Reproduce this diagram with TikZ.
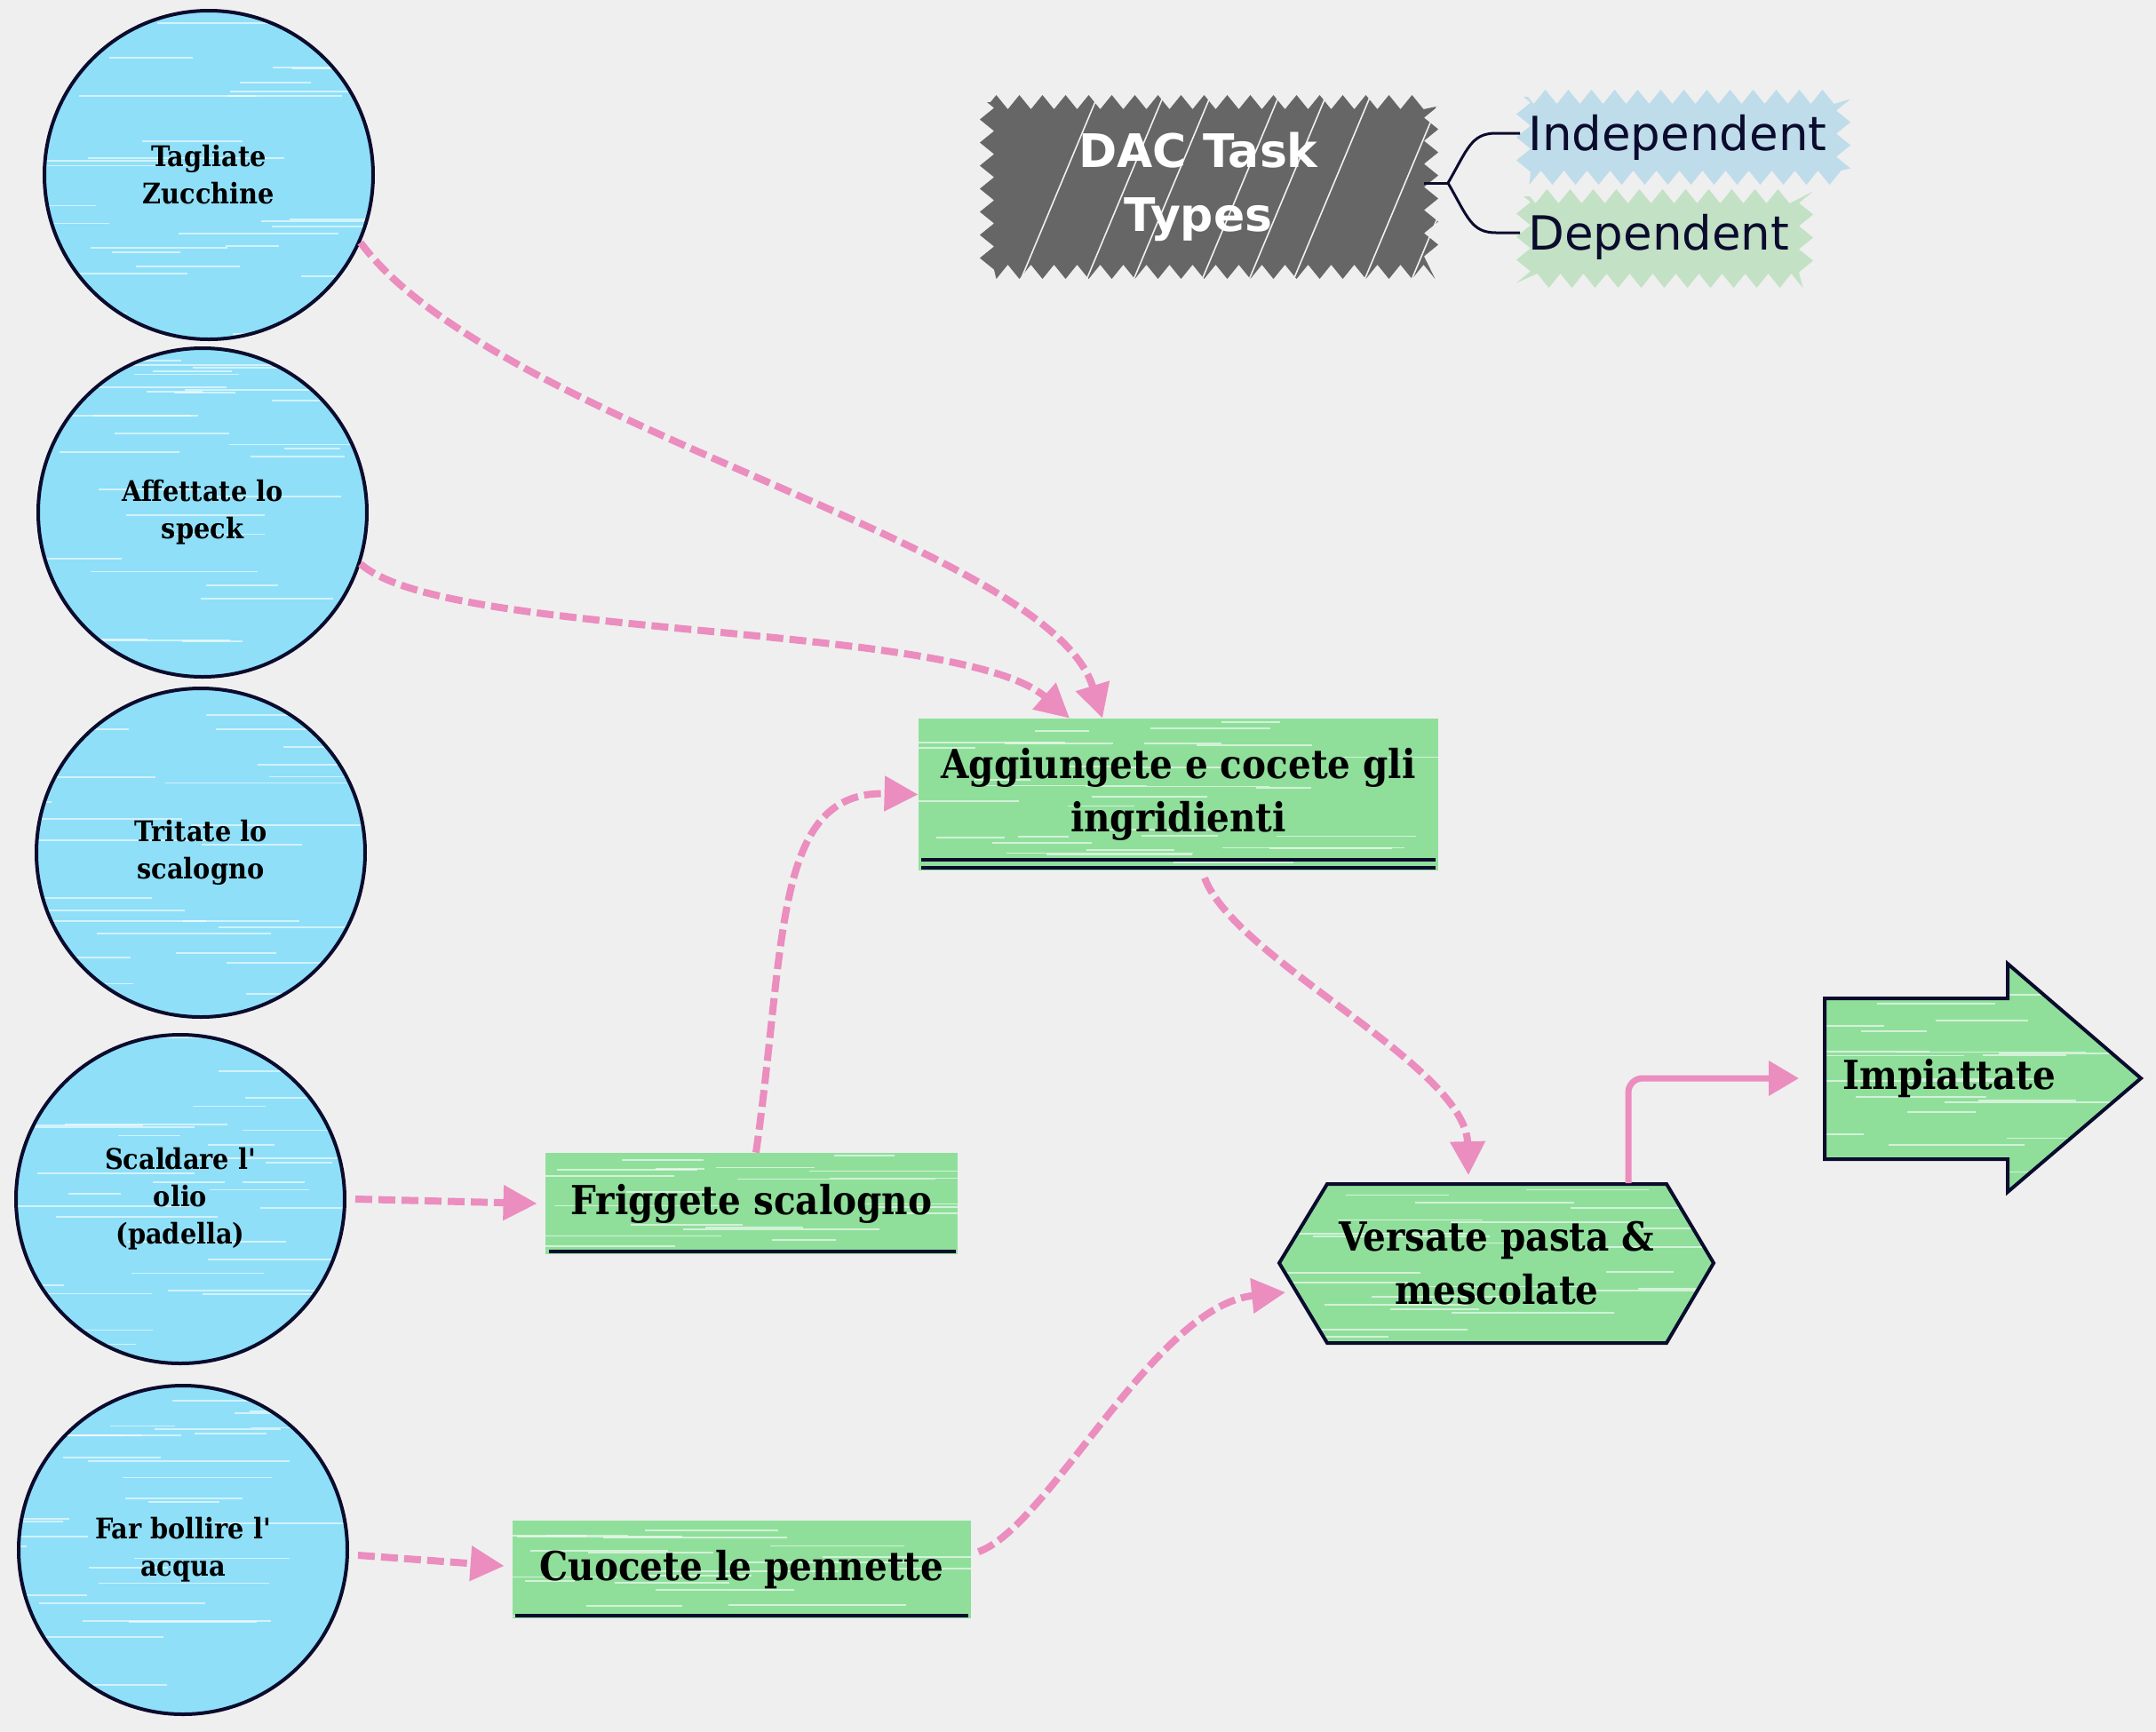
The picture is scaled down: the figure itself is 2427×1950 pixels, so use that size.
\documentclass[tikz,border=0pt]{standalone}
\usepackage{fontspec}
\setmainfont{DejaVu Serif}
\newfontfamily\nf{DejaVu Serif Condensed}
\newfontfamily\sansf{DejaVu Sans}
\usetikzlibrary{arrows.meta,decorations.pathmorphing}
\definecolor{bgc}{HTML}{EFEFEF}
\definecolor{cblue}{HTML}{8FDFF8}
\definecolor{cgreen}{HTML}{8FDF9B}
\definecolor{navy}{HTML}{0B0B2E}
\definecolor{pinkc}{HTML}{EB8DBE}
\definecolor{dacg}{HTML}{666666}
\definecolor{indb}{HTML}{BFDCEA}
\definecolor{depg}{HTML}{C3E1C4}
\newcommand\mystreaks[5]{%
  \foreach \i in {1,...,#5}{%
    \pgfmathsetmacro\sy{(#2)+rnd*((#4)-(#2))}%
    \pgfmathsetmacro\sx{(#1)-80+rnd*((#3)-(#1))}%
    \pgfmathsetmacro\sl{50+rnd*180}%
    \draw[white, opacity=0.6, line width=0.9pt] (\sx,\sy) -- ++(\sl,0);
  }}
\tikzset{
  circ/.style={circle, draw=navy, line width=2pt, minimum size=185pt, inner sep=0pt,
    align=center, font=\nf\bfseries\fontsize{16}{21}\selectfont},
  boxtext/.style={inner sep=0pt, align=center, font=\nf\bfseries\fontsize{22.5}{30}\selectfont},
  con/.style={draw=pinkc, line width=4pt, dash pattern=on 9.5pt off 3.5pt,
    -{Triangle[length=19pt,width=19pt]}},
  solidcon/.style={draw=pinkc, line width=3.5pt, rounded corners=8pt,
    -{Triangle[length=17pt,width=19pt]}},
  legtext/.style={text=navy, anchor=west, inner sep=4.5pt, font=\sansf\fontsize{26.5}{30}\selectfont},
  rough/.style={decorate, decoration={zigzag, segment length=13pt, amplitude=4pt}}
}
\begin{document}
\begin{tikzpicture}[x=0.5pt,y=-0.5pt]
\pgfmathsetseed{7}
\fill[bgc] (0,0) rectangle (2427,1950);
\useasboundingbox (0,0) rectangle (2427,1950);

% ---- circle fills with streaks
\foreach \cx/\cy in {235/197,228/577,226/960,203/1350,206/1745}{
  \fill[cblue] (\cx,\cy) circle[radius=92.5pt];
  \begin{scope}
    \clip (\cx,\cy) circle[radius=92pt];
    \mystreaks{\cx-185}{\cy-185}{\cx+185}{\cy+185}{30}
  \end{scope}
}

% ---- green shapes
\fill[cgreen] (1034,809) rectangle (1619,980);
\begin{scope}\clip (1034,809) rectangle (1619,980);
  \mystreaks{1034}{812}{1619}{978}{30}\end{scope}
\fill[cgreen] (614,1298) rectangle (1078,1412);
\begin{scope}\clip (614,1298) rectangle (1078,1412);
  \mystreaks{614}{1300}{1078}{1410}{20}\end{scope}
\fill[cgreen] (577,1712) rectangle (1093,1822);
\begin{scope}\clip (577,1712) rectangle (1093,1822);
  \mystreaks{577}{1714}{1093}{1820}{20}\end{scope}
\fill[cgreen] (1440,1422) -- (1494,1333) -- (1876,1333) -- (1929,1422) -- (1876,1512) -- (1494,1512) -- cycle;
\begin{scope}\clip (1440,1422) -- (1494,1333) -- (1876,1333) -- (1929,1422) -- (1876,1512) -- (1494,1512) -- cycle;
  \mystreaks{1440}{1336}{1929}{1510}{26}\end{scope}
\fill[cgreen] (2054,1124) -- (2260,1124) -- (2260,1085) -- (2410,1214) -- (2260,1342) -- (2260,1305) -- (2054,1305) -- cycle;
\begin{scope}\clip (2054,1124) -- (2260,1124) -- (2260,1085) -- (2410,1214) -- (2260,1342) -- (2260,1305) -- (2054,1305) -- cycle;
  \mystreaks{2054}{1088}{2410}{1340}{26}\end{scope}

% outlines of drawn shapes
\draw[navy, line width=2pt] (1037,968) -- (1616,968);
\draw[navy, line width=2pt] (1037,977) -- (1616,977);
\draw[navy, line width=2pt] (618,1409) -- (1076,1409);
\draw[navy, line width=2pt] (580,1819) -- (1090,1819);
\draw[navy, line width=2pt, line join=miter] (1440,1422) -- (1494,1333) -- (1876,1333) -- (1929,1422) -- (1876,1512) -- (1494,1512) -- cycle;
\draw[navy, line width=2pt, line join=miter] (2054,1124) -- (2260,1124) -- (2260,1085) -- (2410,1214) -- (2260,1342) -- (2260,1305) -- (2054,1305) -- cycle;

% ---- legend boxes
\fill[dacg, rough] (1111,115) rectangle (1611,306);
\begin{scope}\clip (1100,100) rectangle (1625,320);
  \foreach \k/\d in {0/30,1/70,2/40,3/90,4/60,5/20,6/80,7/50}{
    \draw[bgc, line width=0.8pt] (1140+\k*62+\d*0.3,315) -- ++(90,-215);}
\end{scope}
\fill[indb, rough] (1715,109) rectangle (2075,200);
\fill[depg, rough] (1715,221) rectangle (2033,316);

% ---- nodes
\node[circ] (c1) at (235,197) {Tagliate\\ Zucchine};
\node[circ] (c2) at (228,577) {Affettate lo\\ speck};
\node[circ] (c3) at (226,960) {Tritate lo\\ scalogno};
\node[circ] (c4) at (203,1350) {Scaldare l'\\ olio\\ (padella)};
\node[circ] (c5) at (206,1745) {Far bollire l'\\ acqua};

\node[boxtext, minimum width=292.5pt, minimum height=85.5pt] (a1) at (1326.5,894.5) {Aggiungete e cocete gli\\ ingridienti};
\node[boxtext, minimum width=232pt, minimum height=57pt] (f) at (846,1355) {Friggete scalogno};
\node[boxtext, minimum width=258pt, minimum height=55pt] (p) at (835,1767) {Cuocete le pennette};
\node[boxtext, minimum width=244.5pt, minimum height=89.5pt] (v) at (1685,1422) {Versate pasta \&\\ mescolate};
\node[boxtext, anchor=west, inner xsep=10pt, minimum height=90.5pt] (imp) at (2054,1214) {Impiattate};

\node[text=white, align=center, minimum width=254pt, minimum height=99.5pt,
  font=\sansf\bfseries\fontsize{26}{36}\selectfont] (dac) at (1349,210) {DAC Task\\ Types};
\node[legtext] (ind) at (1711,155) {Independent};
\node[legtext] (dep) at (1711,267) {Dependent};

% ---- bracket
\coordinate (j) at (1630,206);
\draw[navy, line width=1.5pt] ([yshift=2pt]dac.east) -- (j);
\draw[navy, line width=1.5pt] (j) .. controls (1652,168) and (1656,150) .. (1684,150) -- ([yshift=2.5pt]ind.west);
\draw[navy, line width=1.5pt] (j) .. controls (1652,244) and (1656,262) .. (1684,262) -- ([yshift=2.5pt]dep.west);

% ---- connectors
\draw[con] (c1.-24) .. controls (560,480) and (1180,610) .. ([xshift=-42.75pt]a1.north);
\draw[con] (c2.-18) .. controls (500,720) and (1080,700) .. ([xshift=-61.25pt]a1.north);
\draw[con] ([xshift=2.5pt]f.north) .. controls (885,1060) and (870,890) .. (a1.west);
\draw[con] ([xshift=14.75pt,yshift=-4pt]a1.south) .. controls (1390,1080) and (1650,1200) .. ([xshift=-16pt,yshift=4.5pt]v.north);
\draw[con] ([xshift=5pt]c4.east) -- ([xshift=-4.5pt]f.west);
\draw[con] ([xshift=5pt,yshift=-3pt]c5.east) -- ([xshift=-4.5pt,yshift=2pt]p.west);
\draw[con] ([xshift=4pt,yshift=10pt]p.east) .. controls (1180,1720) and (1300,1470) .. ([xshift=3.5pt,yshift=-16.5pt]v.west);
\draw[solidcon] ([xshift=74pt]v.north) |- ([xshift=-14.5pt]imp.west);
\end{tikzpicture}
\end{document}
